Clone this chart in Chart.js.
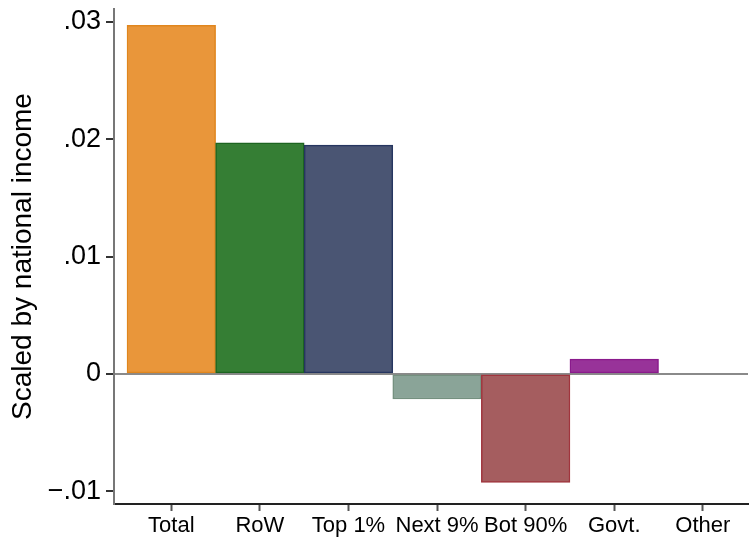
<!DOCTYPE html>
<html>
<head>
<meta charset="utf-8">
<script src="https://cdn.jsdelivr.net/npm/chart.js@4.4.1/dist/chart.umd.min.js"></script>
<style>
  html, body { margin: 0; padding: 0; background: #fff; }
  #wrap { width: 749px; height: 537px; }
</style>
</head>
<body>
<div id="wrap"><canvas id="chart" width="749" height="537"></canvas></div>
<script>
// categories and values (scaled by national income)
const categories = ['Total', 'RoW', 'Top 1%', 'Next 9%', 'Bot 90%', 'Govt.', 'Other'];
const values = [0.0297, 0.0197, 0.0195, -0.00215, -0.00925, 0.00125, 0];
const yTicks = [-0.01, 0, 0.01, 0.02, 0.03];

const fillColors = ['#e9963a', '#357e34', '#4a5573', '#8aa498', '#a55d5f', '#983399', '#888888'];
const edgeColors = ['#e0861e', '#1d6420', '#263660', '#74907f', '#a0353d', '#8a1a8c', '#888888'];

const FONT = 'Liberation Sans, Arial, Helvetica, sans-serif';

// format ticks Stata style: .01, 0, −.01
function fmtTick(v) {
    if (Math.abs(v) < 1e-9) return '0';
    const s = Math.abs(v).toFixed(2).replace(/^0/, '');
    return v < 0 ? '\u2212' + s : s;
}

new Chart(document.getElementById('chart'), {
    type: 'bar',
    data: {
        datasets: [{
            data: values.map((v, i) => ({ x: i, y: v })),
            backgroundColor: fillColors,
            borderColor: edgeColors,
            borderWidth: 1.5,
            borderSkipped: false,
            barPercentage: 1,
            categoryPercentage: 1
        }]
    },
    options: {
        responsive: false,
        animation: false,
        layout: { padding: { left: 0, top: 9, right: 1, bottom: 0 } },
        plugins: {
            legend: { display: false },
            tooltip: { enabled: false }
        },
        scales: {
            x: {
                type: 'linear',
                offset: false,
                min: -0.647,
                max: 6.51,
                afterBuildTicks: function(scale) {
                    scale.ticks = categories.map((c, i) => ({ value: i }));
                },
                afterFit: function(scale) {
                    scale.height = 33;
                    scale.paddingLeft = 0;
                    scale.paddingRight = 0;
                },
                border: { color: '#222', width: 2 },
                grid: { offset: false, drawOnChartArea: false, tickLength: 7, tickWidth: 2, tickColor: '#555' },
                ticks: {
                    autoSkip: false,
                    maxRotation: 0,
                    padding: 2,
                    color: '#000',
                    font: { family: FONT, size: 22 },
                    callback: function(value) { return categories[value]; }
                }
            },
            y: {
                min: -0.0111,
                max: 0.0311,
                afterBuildTicks: function(scale) {
                    scale.ticks = yTicks.map(v => ({ value: v }));
                },
                afterFit: function(scale) {
                    scale.width = 114;
                    scale.paddingTop = 0;
                    scale.paddingBottom = 0;
                },
                border: { color: '#777', width: 2 },
                grid: {
                    drawOnChartArea: true,
                    tickLength: 8,
                    tickWidth: 2,
                    tickColor: '#333',
                    color: function(ctx) {
                        return ctx.tick && Math.abs(ctx.tick.value) < 1e-9 ? '#8a8a8a' : 'rgba(0,0,0,0)';
                    },
                    lineWidth: 2
                },
                ticks: {
                    padding: 5,
                    color: '#000',
                    font: { family: FONT, size: 27 },
                    callback: function(value) { return fmtTick(value); }
                },
                title: {
                    display: true,
                    text: 'Scaled by national income',
                    color: '#000',
                    font: { family: FONT, size: 28 },
                    padding: { top: 6, bottom: 0 }
                }
            }
        }
    }
});
</script>
</body>
</html>
